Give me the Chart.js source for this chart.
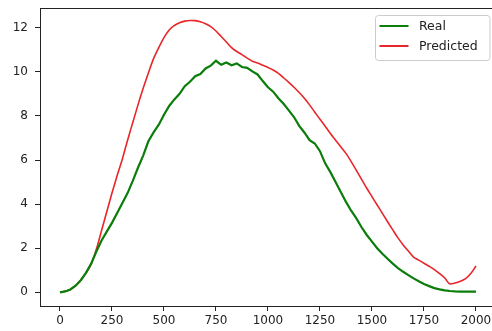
<!DOCTYPE html>
<html><head><meta charset="utf-8">
<script src="https://cdn.jsdelivr.net/npm/chart.js@4/dist/chart.umd.min.js"></script>
<style>html,body{margin:0;padding:0;background:#fff;overflow:hidden;}</style>
</head><body>
<canvas id="c" width="492" height="331"></canvas>
<script>
const xValues = [0,25,50,75,100,125,150,175,200,225,250,275,300,325,350,375,400,425,450,475,500,525,550,575,600,625,650,675,700,725,750,775,800,825,850,875,900,925,950,975,1000,1025,1050,1075,1100,1125,1150,1175,1200,1225,1250,1275,1300,1325,1350,1375,1400,1425,1450,1475,1500,1525,1550,1575,1600,1625,1650,1675,1700,1725,1750,1775,1800,1825,1850,1875,1900,1925,1950,1975,2000];
const realValues = [0.0,0.04,0.13,0.3,0.55,0.88,1.3,1.85,2.35,2.75,3.15,3.6,4.05,4.5,5.05,5.65,6.2,6.85,7.25,7.6,8.05,8.45,8.75,9.0,9.35,9.55,9.8,9.9,10.15,10.28,10.5,10.32,10.42,10.3,10.38,10.22,10.18,10.02,9.88,9.58,9.3,9.1,8.8,8.55,8.25,7.95,7.55,7.25,6.9,6.75,6.4,5.85,5.45,5.0,4.55,4.1,3.7,3.35,2.95,2.6,2.3,2.0,1.75,1.52,1.3,1.1,0.93,0.78,0.63,0.5,0.38,0.28,0.19,0.13,0.09,0.06,0.04,0.03,0.03,0.03,0.03];
const predictedValues = [0.0,0.05,0.13,0.3,0.55,0.88,1.28,1.95,2.8,3.65,4.5,5.3,6.05,6.9,7.7,8.5,9.25,9.95,10.6,11.1,11.55,11.9,12.1,12.23,12.3,12.33,12.32,12.27,12.18,12.05,11.85,11.6,11.35,11.1,10.92,10.78,10.62,10.48,10.4,10.3,10.2,10.08,9.93,9.73,9.52,9.3,9.06,8.8,8.5,8.17,7.85,7.53,7.2,6.9,6.6,6.3,5.93,5.53,5.12,4.72,4.34,3.96,3.58,3.2,2.83,2.47,2.15,1.87,1.6,1.46,1.32,1.18,1.03,0.85,0.65,0.38,0.42,0.5,0.62,0.85,1.19];
const xTicks = [0,250,500,750,1000,1250,1500,1750,2000];
const yTicks = [0,2,4,6,8,10,12];
const seriesLabels = ['Real','Predicted'];
const seriesColors = ['#0a7d0a','#e8262a'];

const FONT = 'DejaVu Sans';
const toPts = ys => xValues.map((x,i)=>({x:x,y:ys[i]}));
const noPad = s => { s.paddingTop=0; s.paddingBottom=0; s.paddingLeft=0; s.paddingRight=0; };

const framePlugin = {
  id:'frame',
  afterDraw(chart){
    const ctx = chart.ctx, a = chart.chartArea;
    ctx.save();
    ctx.strokeStyle = '#222';
    ctx.lineWidth = 1;
    ctx.beginPath();
    ctx.moveTo(a.left, a.top+0.5);
    ctx.lineTo(a.right, a.top+0.5);
    ctx.stroke();
    const bx=375.5, by=15.5, bw=114.5, bh=45, r=3;
    ctx.fillStyle='rgba(255,255,255,0.85)';
    ctx.strokeStyle='#cccccc';
    ctx.beginPath();
    ctx.moveTo(bx+r,by); ctx.lineTo(bx+bw-r,by); ctx.quadraticCurveTo(bx+bw,by,bx+bw,by+r);
    ctx.lineTo(bx+bw,by+bh-r); ctx.quadraticCurveTo(bx+bw,by+bh,bx+bw-r,by+bh);
    ctx.lineTo(bx+r,by+bh); ctx.quadraticCurveTo(bx,by+bh,bx,by+bh-r);
    ctx.lineTo(bx,by+r); ctx.quadraticCurveTo(bx,by,bx+r,by);
    ctx.closePath(); ctx.fill(); ctx.stroke();
    chart.data.datasets.forEach((ds,i)=>{
      const y = 26 + i*20;
      ctx.strokeStyle = ds.borderColor;
      ctx.lineWidth = 2;
      ctx.beginPath(); ctx.moveTo(379.5,y); ctx.lineTo(408.5,y); ctx.stroke();
      ctx.fillStyle='#222';
      ctx.font = '12.5px "'+FONT+'"';
      ctx.textBaseline='middle';
      ctx.textAlign='left';
      ctx.fillText(ds.label, 419, y+0.5);
    });
    ctx.restore();
  }
};

new Chart(document.getElementById('c'), {
  type:'line',
  data:{datasets:[
    {label:seriesLabels[0], data:toPts(realValues), borderColor:seriesColors[0], borderWidth:2.2, pointRadius:0, tension:0, fill:false},
    {label:seriesLabels[1], data:toPts(predictedValues), borderColor:seriesColors[1], borderWidth:1.6, pointRadius:0, cubicInterpolationMode:'monotone', fill:false}
  ]},
  options:{
    responsive:false, animation:false, devicePixelRatio:1,
    layout:{padding:{top:8,right:0,left:0,bottom:0}},
    plugins:{legend:{display:false}, tooltip:{enabled:false}},
    scales:{
      x:{type:'linear', min:-96, max:2077,
        afterBuildTicks:s=>{s.ticks = xTicks.map(v=>({value:v}));},
        afterFit:s=>{s.height=25; noPad(s);},
        grid:{display:true, drawOnChartArea:false, tickLength:5, tickColor:'#222'},
        border:{display:true, color:'#222', width:1},
        ticks:{padding:3, color:'#222', font:{family:FONT,size:12}, maxRotation:0, autoSkip:false, callback:v=>String(v)}
      },
      y:{type:'linear', min:-0.621, max:12.894,
        afterBuildTicks:s=>{s.ticks = yTicks.map(v=>({value:v}));},
        afterFit:s=>{s.width=40; noPad(s);},
        grid:{display:true, drawOnChartArea:false, tickLength:5, tickColor:'#222'},
        border:{display:true, color:'#222', width:1},
        ticks:{padding:7, color:'#222', font:{family:FONT,size:12}, callback:v=>String(v)}
      }
    }
  },
  plugins:[framePlugin]
});
</script>
</body></html>
